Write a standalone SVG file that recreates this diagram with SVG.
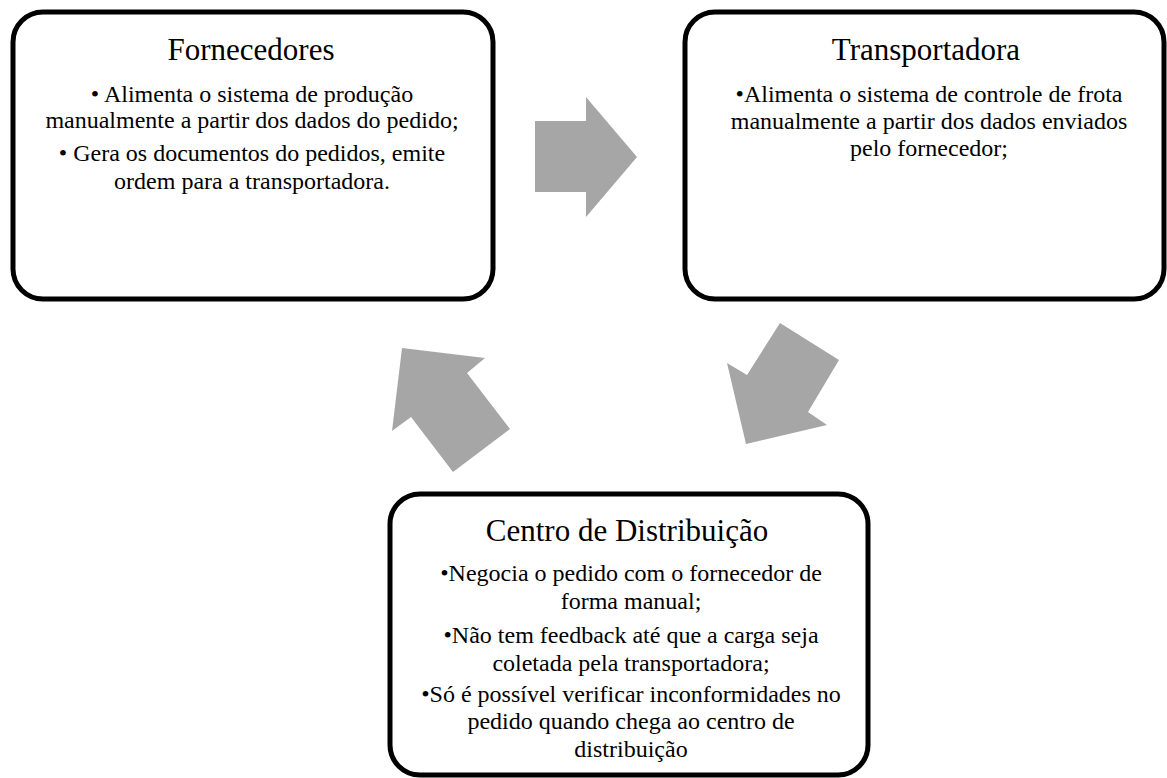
<svg xmlns="http://www.w3.org/2000/svg" width="1167" height="778" viewBox="0 0 1167 778">
<style>
.box{fill:#ffffff;stroke:#000000;stroke-width:5}
.arrow{fill:#A6A6A6;stroke:none}
.ttl{font-family:"Liberation Serif","Times New Roman",serif;font-size:31px;fill:#000000;text-anchor:middle}
.txt{font-family:"Liberation Serif","Times New Roman",serif;font-size:24px;fill:#000000;text-anchor:middle}
</style>
<rect width="1167" height="778" fill="#ffffff"/>
<g id="connectors">
<polygon class="arrow" points="535,121 586,121 586,97 637,157 586,217 586,192 535,192"/>
<polygon class="arrow" points="780,323 839,360 808,412 827,425 746,444 727,363 747,375"/>
<polygon class="arrow" points="510,429 453,472 411,417 392,431 402,348 485,358 467,373"/>
</g>
<g id="fornecedores">
<rect class="box" x="13" y="12" width="480" height="287" rx="30" ry="30"/>
<text class="ttl" x="251" y="60">Fornecedores</text>
<text class="txt" x="252" y="102">• Alimenta o sistema de produção</text>
<text class="txt" x="252" y="128">manualmente a partir dos dados do pedido;</text>
<text class="txt" x="252" y="161">• Gera os documentos do pedidos, emite</text>
<text class="txt" x="252" y="189">ordem para a transportadora.</text>
</g>
<g id="transportadora">
<rect class="box" x="685" y="12" width="479" height="287" rx="30" ry="30"/>
<text class="ttl" x="926" y="60">Transportadora</text>
<text class="txt" x="929" y="102">•Alimenta o sistema de controle de frota</text>
<text class="txt" x="929" y="129">manualmente a partir dos dados enviados</text>
<text class="txt" x="929" y="156">pelo fornecedor;</text>
</g>
<g id="centro-distribuicao">
<rect class="box" x="390" y="494" width="478" height="281" rx="30" ry="30"/>
<text class="ttl" x="627" y="541">Centro de Distribuição</text>
<text class="txt" x="631" y="581">•Negocia o pedido com o fornecedor de</text>
<text class="txt" x="631" y="609">forma manual;</text>
<text class="txt" x="631" y="643">•Não tem feedback até que a carga seja</text>
<text class="txt" x="631" y="671">coletada pela transportadora;</text>
<text class="txt" x="631" y="702">•Só é possível verificar inconformidades no</text>
<text class="txt" x="631" y="729">pedido quando chega ao centro de</text>
<text class="txt" x="631" y="757">distribuição</text>
</g>
</svg>
